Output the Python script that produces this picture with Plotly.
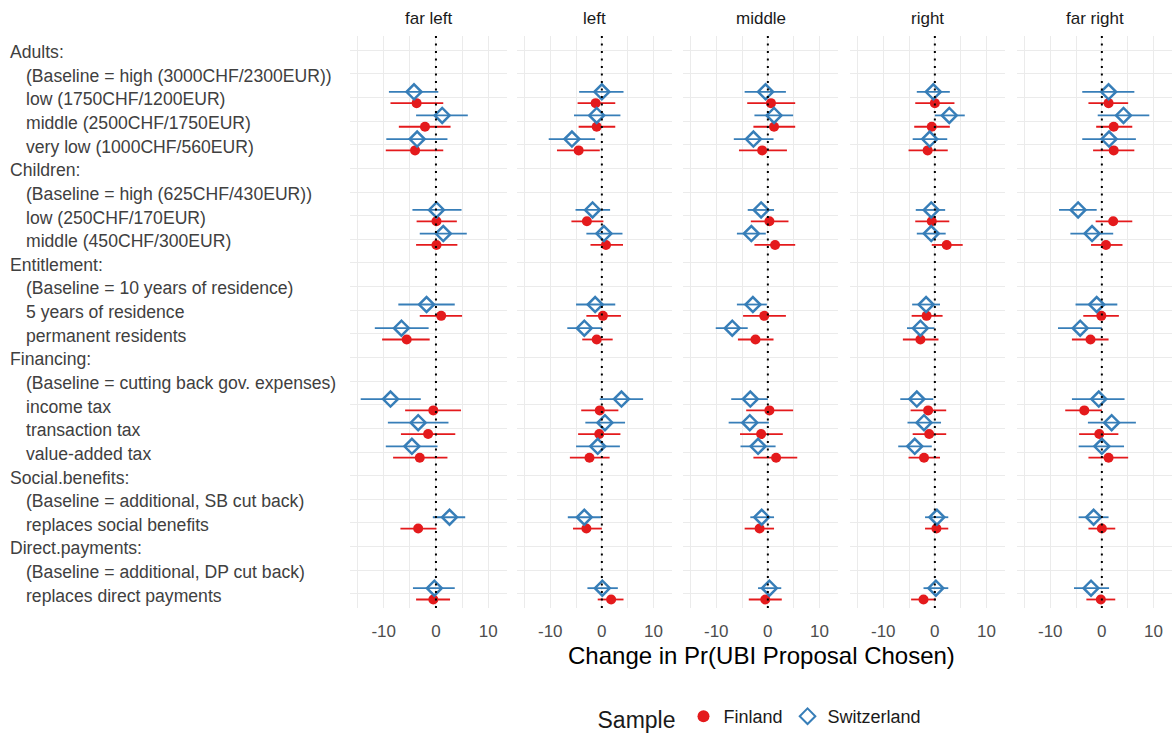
import plotly.graph_objects as go

# ---- data -----------------------------------------------------------------
facets = ["far left", "left", "middle", "right", "far right"]

row_labels = [
    "Adults:",
    "(Baseline = high (3000CHF/2300EUR))",
    "low (1750CHF/1200EUR)",
    "middle (2500CHF/1750EUR)",
    "very low (1000CHF/560EUR)",
    "Children:",
    "(Baseline = high (625CHF/430EUR))",
    "low (250CHF/170EUR)",
    "middle (450CHF/300EUR)",
    "Entitlement:",
    "(Baseline = 10 years of residence)",
    "5 years of residence",
    "permanent residents",
    "Financing:",
    "(Baseline = cutting back gov. expenses)",
    "income tax",
    "transaction tax",
    "value-added tax",
    "Social.benefits:",
    "(Baseline = additional, SB cut back)",
    "replaces social benefits",
    "Direct.payments:",
    "(Baseline = additional, DP cut back)",
    "replaces direct payments",
]
headers = ["Adults:", "Children:", "Entitlement:", "Financing:",
           "Social.benefits:", "Direct.payments:"]

levels = [
    "low (1750CHF/1200EUR)", "middle (2500CHF/1750EUR)", "very low (1000CHF/560EUR)",
    "low (250CHF/170EUR)", "middle (450CHF/300EUR)",
    "5 years of residence", "permanent residents",
    "income tax", "transaction tax", "value-added tax",
    "replaces social benefits", "replaces direct payments",
]

# Finland: estimate, lower, upper (percentage points)
far_left_fi    = [-3.7, -2.1, -4.0, 0.1, 0.1, 1.0, -5.6, -0.5, -1.5, -3.1, -3.4, -0.5]
far_left_fi_lo = [-8.7, -7.1, -9.6, -3.7, -3.8, -3.1, -10.3, -5.9, -6.7, -8.2, -6.8, -3.8]
far_left_fi_hi = [1.4, 2.8, 1.4, 4.0, 4.1, 5.0, -1.2, 4.8, 3.7, 2.2, 0.1, 2.7]
left_fi        = [-1.2, -1.0, -4.5, -2.9, 0.8, 0.2, -1.0, -0.4, -0.5, -2.4, -3.0, 1.8]
left_fi_lo     = [-4.7, -4.5, -8.7, -5.9, -2.2, -3.0, -3.8, -4.0, -4.6, -6.2, -5.6, -0.8]
left_fi_hi     = [2.6, 2.6, -0.4, 0.3, 4.1, 3.7, 2.1, 3.2, 3.6, 1.5, 0.0, 4.2]
middle_fi      = [0.6, 1.2, -1.1, 0.3, 1.4, -0.7, -2.4, 0.3, -1.3, 1.6, -1.6, -0.5]
middle_fi_lo   = [-4.0, -2.8, -5.6, -3.3, -2.6, -4.8, -5.8, -4.2, -5.4, -2.8, -4.5, -3.7]
middle_fi_hi   = [5.3, 5.3, 3.7, 4.0, 5.3, 3.5, 1.1, 4.9, 2.9, 5.7, 1.2, 2.7]
right_fi       = [0.0, -0.6, -1.4, -0.6, 2.3, -1.6, -2.8, -1.3, -1.1, -2.1, 0.3, -2.2]
right_fi_lo    = [-3.8, -4.0, -5.1, -3.8, -0.6, -4.5, -6.2, -4.7, -4.3, -5.1, -1.9, -4.6]
right_fi_hi    = [3.8, 2.9, 2.5, 2.8, 5.4, 1.5, 0.7, 2.2, 2.2, 1.0, 2.6, 0.2]
far_right_fi    = [1.3, 2.3, 2.3, 2.2, 0.8, -0.1, -2.2, -3.4, -0.5, 1.3, 0.0, -0.2]
far_right_fi_lo = [-2.6, -1.1, -1.7, -1.2, -2.1, -3.6, -5.8, -7.1, -4.4, -2.6, -2.6, -3.0]
far_right_fi_hi = [5.1, 5.9, 6.3, 5.9, 4.0, 3.3, 1.3, 0.0, 3.2, 5.1, 2.6, 2.6]

# Switzerland: estimate, lower, upper (percentage points)
far_left_ch    = [-4.2, 1.2, -3.6, 0.1, 1.4, -1.8, -6.6, -8.7, -3.4, -4.6, 2.6, -0.3]
far_left_ch_lo = [-9.0, -3.8, -9.5, -4.5, -3.1, -7.2, -11.7, -14.4, -9.2, -9.6, -0.6, -4.4]
far_left_ch_hi = [0.45, 6.1, 2.2, 4.9, 5.9, 3.6, -1.4, -2.9, 2.4, 0.3, 5.6, 3.6]
left_ch        = [0.0, -1.0, -5.8, -1.8, 0.4, -1.3, -3.4, 3.8, 0.6, -0.8, -3.4, 0.1]
left_ch_lo     = [-4.4, -5.4, -10.3, -5.1, -3.0, -5.0, -6.7, -0.4, -3.2, -5.0, -6.6, -2.8]
left_ch_hi     = [4.2, 3.6, -1.3, 1.6, 4.0, 2.6, 0.0, 8.0, 4.5, 3.5, -0.2, 3.1]
middle_ch      = [-0.45, 1.2, -2.8, -1.3, -3.2, -2.9, -6.9, -3.4, -3.5, -1.9, -1.2, 0.3]
middle_ch_lo   = [-4.5, -2.6, -6.6, -3.9, -6.0, -6.0, -10.1, -7.1, -7.6, -5.3, -3.4, -1.9]
middle_ch_hi   = [3.5, 4.9, 1.1, 1.2, -0.4, -0.2, -3.9, 0.0, 0.2, 1.5, 1.2, 2.6]
right_ch       = [-0.3, 2.8, -1.0, -0.7, -0.7, -1.7, -2.8, -3.5, -2.1, -3.9, 0.4, 0.2]
right_ch_lo    = [-3.5, 0.0, -4.3, -3.7, -3.5, -4.4, -5.4, -6.7, -5.3, -7.1, -1.9, -2.2]
right_ch_hi    = [2.9, 5.8, 2.4, 2.0, 2.1, 1.0, -0.1, -0.3, 1.2, -0.6, 2.6, 2.6]
far_right_ch    = [1.3, 4.2, 1.4, -4.6, -1.9, -1.0, -4.2, -0.6, 1.9, 0.0, -1.6, -2.1]
far_right_ch_lo = [-3.8, -0.8, -3.8, -8.3, -6.1, -5.1, -8.5, -5.8, -2.7, -4.5, -4.5, -5.4]
far_right_ch_hi = [6.3, 9.2, 6.6, -1.0, 2.2, 3.0, 0.0, 4.4, 6.6, 4.3, 1.3, 1.4]

finland = [
    (far_left_fi, far_left_fi_lo, far_left_fi_hi),
    (left_fi, left_fi_lo, left_fi_hi),
    (middle_fi, middle_fi_lo, middle_fi_hi),
    (right_fi, right_fi_lo, right_fi_hi),
    (far_right_fi, far_right_fi_lo, far_right_fi_hi),
]
switzerland = [
    (far_left_ch, far_left_ch_lo, far_left_ch_hi),
    (left_ch, left_ch_lo, left_ch_hi),
    (middle_ch, middle_ch_lo, middle_ch_hi),
    (right_ch, right_ch_lo, right_ch_hi),
    (far_right_ch, far_right_ch_lo, far_right_ch_hi),
]

x_ticks = [-10, 0, 10]

# ---- styling --------------------------------------------------------------
RED = "#E41A1C"
BLUE = "#377EB8"
GRID = "#EBEBEB"
FONT = "Liberation Sans, Arial, sans-serif"
W, H = 1174, 735
ML, MR, MT, MB = 350, 2, 36, 127
plot_w = W - ML - MR
plot_h = H - MT - MB
panel_px = [(350, 507), (517, 672), (683, 838), (850, 1005), (1017, 1172)]
domains = [((a - ML) / plot_w, (b - ML) / plot_w) for a, b in panel_px]
DODGE = 0.24

row_index = {lab: i for i, lab in enumerate(row_labels)}
level_y = [row_index[l] for l in levels]

fig = go.Figure()

for k, facet in enumerate(facets):
    ax = "" if k == 0 else str(k + 1)
    for name, data, colour, sym, size, off in [
        ("Finland", finland[k], RED, "circle", 10, DODGE),
        ("Switzerland", switzerland[k], BLUE, "diamond-open", 11.5, -DODGE),
    ]:
        est, lo, hi = data
        fig.add_trace(go.Scatter(
            x=est,
            y=[y + off for y in level_y],
            mode="markers",
            name=name,
            legendgroup=name,
            showlegend=(k == 0),
            xaxis="x" + ax,
            yaxis="y" + ax,
            marker=dict(color=colour, symbol=sym, size=size,
                        line=dict(color=colour, width=2.5 if sym == "diamond-open" else 0)),
            error_x=dict(type="data", symmetric=False,
                         array=[h - e for h, e in zip(hi, est)],
                         arrayminus=[e - l for e, l in zip(est, lo)],
                         color=colour, thickness=1.8, width=0),
            hoverinfo="skip",
        ))

    xaxis = dict(
        domain=list(domains[k]), anchor="y" + ax, range=[-16.45, 13.6],
        tickvals=x_ticks, ticktext=[str(t) for t in x_ticks],
        showgrid=True, gridcolor=GRID, gridwidth=1.1,
        minor=dict(dtick=5, tick0=0, showgrid=True, gridcolor=GRID, gridwidth=0.8),
        zeroline=False, showline=False, ticks="",
        ticklabelstandoff=11,
        tickfont=dict(family=FONT, size=17, color="#4D4D4D"),
        fixedrange=True,
    )
    yaxis = dict(
        domain=[0, 1], anchor="x" + ax, range=[len(row_labels) - 0.4, -0.6],
        tickvals=list(range(len(row_labels))), showticklabels=False,
        showgrid=True, gridcolor=GRID, gridwidth=1.1,
        zeroline=False, showline=False, ticks="", fixedrange=True,
    )
    fig.update_layout({"xaxis" + ax: xaxis, "yaxis" + ax: yaxis})

    # dotted reference line at zero
    fig.add_shape(type="line", xref="x" + ax, yref="y" + ax + " domain",
                  x0=0, x1=0, y0=0, y1=1,
                  line=dict(color="black", width=2, dash="2px,5.5px"), layer="above")

    # facet strip label
    fig.add_annotation(text=facet, xref="paper", yref="paper",
                       x=sum(domains[k]) / 2, y=1 + 18 / plot_h,
                       xanchor="center", yanchor="middle", showarrow=False,
                       font=dict(family=FONT, size=17, color="#1A1A1A"))

# left-aligned row labels
for i, lab in enumerate(row_labels):
    px = 8 if lab in headers else 24
    fig.add_annotation(text=lab, xref="paper", yref="y",
                       x=(px - ML) / plot_w, y=i + 0.08,
                       xanchor="left", yanchor="middle", showarrow=False,
                       font=dict(family=FONT, size=17.6, color="#404040"))

# x axis title
fig.add_annotation(text="Change in Pr(UBI Proposal Chosen)", xref="paper", yref="paper",
                   x=0.5, y=-(655 - (H - MB)) / plot_h,
                   xanchor="center", yanchor="middle", showarrow=False,
                   font=dict(family=FONT, size=24, color="black"))

fig.update_layout(
    width=W, height=H,
    margin=dict(l=ML, r=MR, t=MT, b=MB, autoexpand=False),
    paper_bgcolor="white", plot_bgcolor="white",
    font=dict(family=FONT, color="#1A1A1A"),
    showlegend=True,
    legend=dict(
        orientation="h", x=0.5, xanchor="center",
        y=-(718 - (H - MB)) / plot_h, yanchor="middle",
        title=dict(text="Sample", font=dict(family=FONT, size=23, color="#1A1A1A"), side="left"),
        font=dict(family=FONT, size=18, color="#1A1A1A"),
        itemsizing="constant",
        bgcolor="rgba(0,0,0,0)",
    ),
)

fig.write_html("out.html")
